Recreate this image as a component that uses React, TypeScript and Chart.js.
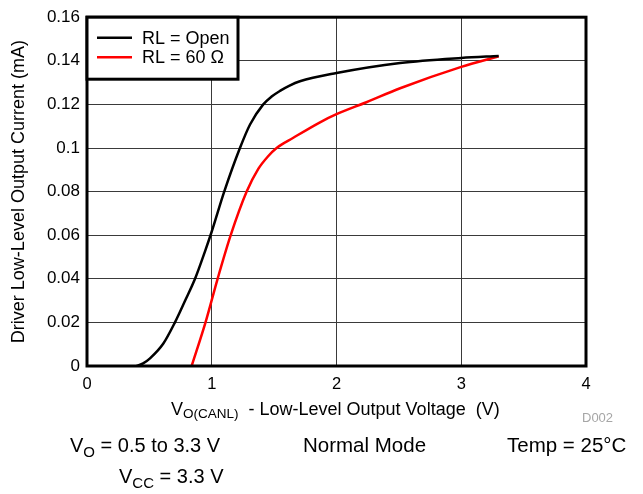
import React, { useEffect, useRef } from "react";
import { Chart, registerables } from "chart.js";

Chart.register(...registerables);

const FONT = '"Liberation Sans", Arial, Helvetica, sans-serif';

// ---- data ----
const xTickValues = [0, 1, 2, 3, 4];
const yTickValues = [0, 0.02, 0.04, 0.06, 0.08, 0.1, 0.12, 0.14, 0.16];

const seriesLabels = ["RL = Open", "RL = 60 Ω"];
const seriesColors = ["#000000", "#ff0000"];

const openVoltage = [0.398, 0.45, 0.505, 0.612, 0.705, 0.786, 0.866, 0.946, 1.0, 1.1, 1.226, 1.307, 1.413, 1.48, 1.547, 1.62, 1.707, 2.0, 2.51, 3.0, 3.3];
const openCurrent = [0.0, 0.0012, 0.0035, 0.0103, 0.02, 0.0299, 0.04, 0.0526, 0.0617, 0.08, 0.1, 0.1108, 0.12, 0.1236, 0.1262, 0.1285, 0.1306, 0.1344, 0.139, 0.1413, 0.1422];

const r60Voltage = [0.839, 0.95, 1.047, 1.152, 1.28, 1.373, 1.45, 1.52, 1.654, 1.868, 2.0, 2.24, 2.51, 3.0, 3.3];
const r60Current = [0.0, 0.02, 0.04, 0.06, 0.08, 0.0904, 0.0961, 0.1, 0.1047, 0.1118, 0.1155, 0.121, 0.1274, 0.1372, 0.1421];

const seriesVoltage = [openVoltage, r60Voltage];
const seriesCurrent = [openCurrent, r60Current];

const frameAndLegend = {
  id: "frameAndLegend",
  afterDraw(chart: any) {
    const { ctx, chartArea: a } = chart;
    ctx.save();
    ctx.lineWidth = 3;
    ctx.strokeStyle = "#000";
    ctx.strokeRect(a.left, a.top, a.right - a.left, a.bottom - a.top);
    const bx = a.left;
    const by = a.top;
    const bw = 151;
    const bh = 62;
    ctx.fillStyle = "#fff";
    ctx.fillRect(bx, by, bw, bh);
    ctx.strokeRect(bx, by, bw, bh);
    chart.data.datasets.forEach((ds: any, i: number) => {
      const y = by + 20.5 + i * 19.5;
      ctx.strokeStyle = ds.borderColor;
      ctx.lineWidth = 2.5;
      ctx.beginPath();
      ctx.moveTo(bx + 10, y);
      ctx.lineTo(bx + 45, y);
      ctx.stroke();
      ctx.fillStyle = "#000";
      ctx.font = `18px ${FONT}`;
      ctx.textBaseline = "middle";
      ctx.textAlign = "left";
      ctx.fillText(ds.label, bx + 55, y + 1);
    });
    ctx.restore();
  },
};

function Txt(props: { x: number; base: number; fs: number; color?: string; children: any }) {
  const { x, base, fs, color, children } = props;
  return (
    <div
      style={{
        position: "absolute",
        left: x,
        top: base - 0.8465 * fs,
        fontSize: fs,
        lineHeight: 1,
        fontFamily: FONT,
        color: color || "#000",
        whiteSpace: "pre",
      }}
    >
      {children}
    </div>
  );
}

function Sub(props: { fs: number; dy: number; children: any }) {
  return (
    <span style={{ fontSize: props.fs, lineHeight: 1, position: "relative", top: props.dy }}>{props.children}</span>
  );
}

export default function App() {
  const ref = useRef<HTMLCanvasElement | null>(null);

  useEffect(() => {
    if (!ref.current) return;
    const datasets = seriesLabels.map((label, i) => ({
      label,
      data: seriesVoltage[i].map((v, j) => ({ x: v, y: seriesCurrent[i][j] })),
      borderColor: seriesColors[i],
      backgroundColor: seriesColors[i],
      borderWidth: 2.5,
      pointRadius: 0,
      cubicInterpolationMode: "monotone" as const,
      fill: false,
    }));
    const chart = new Chart(ref.current, {
      type: "line",
      data: { datasets },
      options: {
        animation: false,
        responsive: false,
        layout: { padding: { left: 0, right: 57, top: 13, bottom: 0 } },
        plugins: { legend: { display: false }, tooltip: { enabled: false } },
        scales: {
          x: {
            type: "linear",
            min: xTickValues[0],
            max: xTickValues[xTickValues.length - 1],
            afterBuildTicks: (s: any) => {
              s.ticks = xTickValues.map((v) => ({ value: v }));
            },
            ticks: {
              font: { size: 16.5, family: FONT },
              color: "#000",
              padding: 9,
              maxRotation: 0,
              callback: (v: any) => String(v),
            },
            grid: { color: "#3a3a3a", lineWidth: 1, drawTicks: false },
            border: { display: false },
            afterFit: (s: any) => {
              s.height = 128;
            },
          },
          y: {
            type: "linear",
            min: yTickValues[0],
            max: yTickValues[yTickValues.length - 1],
            afterBuildTicks: (s: any) => {
              s.ticks = yTickValues.map((v) => ({ value: v }));
            },
            ticks: {
              font: { size: 17, family: FONT },
              color: "#000",
              padding: 7,
              callback: (v: any) => String(parseFloat(Number(v).toFixed(2))),
            },
            grid: { color: "#3a3a3a", lineWidth: 1, drawTicks: false },
            border: { display: false },
            title: {
              display: true,
              text: "Driver Low-Level Output Current (mA)",
              font: { size: 18, family: FONT },
              color: "#000",
              padding: { top: 8, bottom: 0 },
            },
            afterFit: (s: any) => {
              s.width = 87;
            },
          },
        },
      },
      plugins: [frameAndLegend],
    });
    return () => chart.destroy();
  }, []);

  return (
    <div style={{ position: "fixed", left: 0, top: 0, width: 643, height: 494, background: "#fff" }}>
      <canvas ref={ref} width={643} height={494} style={{ width: 643, height: 494, display: "block" }} />
      <Txt x={171} base={415} fs={18}>
        V<Sub fs={13.5} dy={3}>O(CANL)</Sub>
        {"  - Low-Level Output Voltage  (V)"}
      </Txt>
      <Txt x={582} base={422} fs={13} color="#a6a6a6">
        D002
      </Txt>
      <Txt x={70} base={452} fs={20}>
        V<Sub fs={15} dy={5}>O</Sub>
        {" = 0.5 to 3.3 V"}
      </Txt>
      <Txt x={303} base={452} fs={20.5}>
        Normal Mode
      </Txt>
      <Txt x={507} base={452} fs={20.5}>
        Temp = 25°C
      </Txt>
      <Txt x={119} base={483} fs={20}>
        V<Sub fs={15} dy={5}>CC</Sub>
        {" = 3.3 V"}
      </Txt>
    </div>
  );
}
